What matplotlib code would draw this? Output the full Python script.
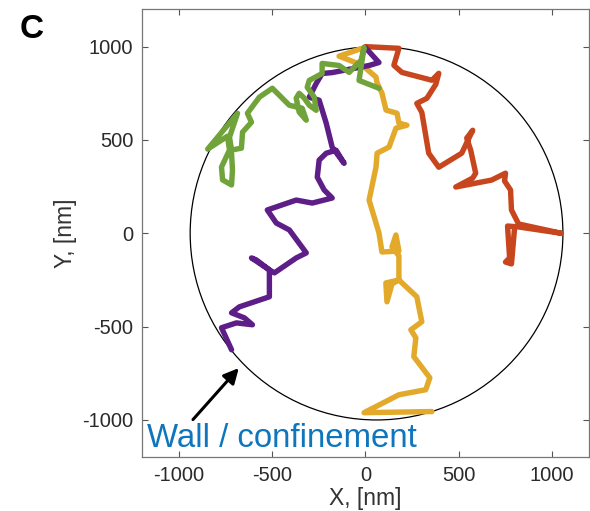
import matplotlib
matplotlib.use("Agg")
import matplotlib.pyplot as plt
from matplotlib.patches import Circle

# Trajectories, in nm
red_x = [0, 180, 153, 196, 357, 394, 378, 330, 276, 303, 340, 394, 517, 576, 544, 565,
         592, 576, 485, 677, 752, 747, 779, 784, 822, 1052, 822, 763, 774, 752, 784, 800]
red_y = [1000, 991, 900, 862, 820, 857, 798, 723, 696, 648, 429, 354, 429, 552, 510, 446,
         322, 296, 248, 285, 322, 280, 232, 125, 50, 0, 34, 39, -132, -154, -164, 20]

yellow_x = [-5, -141, -18, 57, 63, 89, 111, 170, 180, 223, 164, 127, 63, 57, 20, 73, 89,
            180, 164, 143, 180, 180, 180, 110, 116, 143, 180, 276, 303, 244, 271, 260,
            346, 324, 180, -7, 357]
yellow_y = [995, 949, 901, 837, 805, 751, 660, 643, 590, 579, 563, 462, 429, 354, 178, 2,
            -100, -95, -9, -73, -121, -196, -250, -266, -367, -271, -250, -340, -474, -517,
            -560, -661, -774, -838, -865, -961, -955]

purple_x = [0, 73, 20, -178, -232, -264, -301, -248, -210, -178, -114, -157, -210, -248,
            -258, -221, -178, -285, -371, -526, -478, -408, -317, -371, -488, -515, -585,
            -611, -515, -515, -676, -718, -649, -606, -692, -772, -718]
purple_y = [995, 915, 899, 861, 856, 802, 729, 713, 590, 461, 375, 445, 429, 392, 301,
            232, 189, 162, 178, 125, 55, 18, -105, -132, -212, -196, -143, -132, -196, -340,
            -394, -426, -453, -490, -480, -506, -624]

green_x = [73, -34, -7, -23, -87, -141, -232, -232, -301, -312, -274, -264, -301, -328,
           -355, -371, -355, -317, -339, -408, -499, -569, -633, -611, -659, -665, -718,
           -729, -686, -846, -740, -729, -772, -766, -718, -713, -718]
green_y = [777, 819, 996, 927, 862, 899, 910, 856, 819, 782, 729, 659, 686, 724, 750, 724,
           649, 606, 670, 686, 777, 729, 643, 595, 542, 456, 446, 515, 643, 451, 520, 446,
           355, 286, 259, 339, 429]

# Confinement wall
wall_center = (60, 0)
wall_radius = 1000

ticks = [-1000, -500, 0, 500, 1000]

plt.rcParams['font.family'] = ['Liberation Sans', 'DejaVu Sans']
plt.rcParams['axes.unicode_minus'] = False


def plot_tracks():
    fig = plt.figure(figsize=(5.9, 5.11), dpi=100)
    ax = fig.add_axes([0.2402, 0.1051, 0.7581, 0.8767])

    ax.add_patch(Circle(wall_center, wall_radius, fill=False, color='black', lw=0.9))

    style = dict(lw=3.9, solid_joinstyle='round', solid_capstyle='round')
    ax.plot(red_x, red_y, color='#C8461E', **style)
    ax.plot(yellow_x, yellow_y, color='#E2A92B', **style)
    ax.plot(purple_x, purple_y, color='#5E1E87', **style)
    ax.plot(green_x, green_y, color='#70A33A', **style)

    # arrow pointing at the wall
    ax.annotate('', xy=(-679, -722), xytext=(-925, -998),
                arrowprops=dict(arrowstyle='-|>,head_length=0.9,head_width=0.45',
                                color='black', lw=2.2, shrinkA=0, shrinkB=0))
    ax.text(-1172, -1145, 'Wall / confinement', color='#0F75BC', fontsize=23.8,
            va='baseline', ha='left')

    ax.set_xlim(-1200, 1200)
    ax.set_ylim(-1200, 1200)
    ax.set_xticks(ticks)
    ax.set_yticks(ticks)
    ax.tick_params(direction='in', length=4, width=0.8, color='#555555',
                   labelsize=14.5, labelcolor='#2a2a2a', pad=6,
                   top=True, right=True)
    for sp in ax.spines.values():
        sp.set_color('#777777')
        sp.set_linewidth(0.9)

    ax.set_xlabel('X, [nm]', fontsize=16.5, color='#333333', labelpad=2)
    ax.set_ylabel('Y, [nm]', fontsize=16.5, color='#333333', labelpad=4)

    fig.text(0.034, 0.925, 'C', fontsize=24, fontweight='bold', color='black')

    fig.savefig('out.png', dpi=100)


if __name__ == "__main__":
    plot_tracks()
